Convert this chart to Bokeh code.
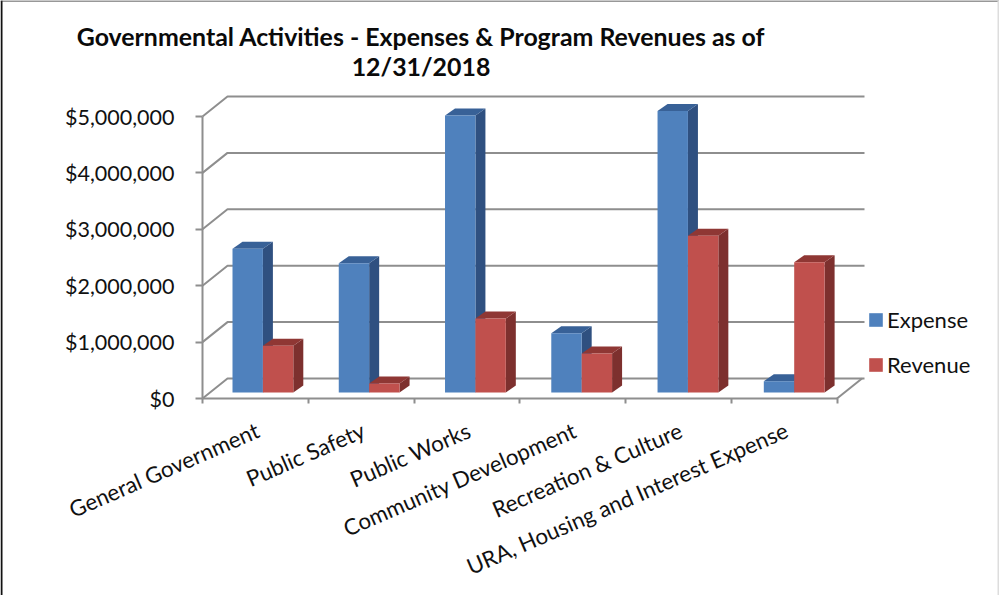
from bokeh.core.properties import value
from bokeh.embed import file_html
from bokeh.resources import INLINE
from bokeh.plotting import figure
from bokeh.models import (Range1d, LinearAxis, FixedTicker, NumeralTickFormatter, Label, LabelSet,
                          ColumnDataSource, Legend, LegendItem, BoxAnnotation)

categories = ["General Government", "Public Safety", "Public Works",
              "Community Development", "Recreation & Culture",
              "URA, Housing and Interest Expense"]
expense = [2550000, 2290000, 4910000, 1050000, 4990000, 200000]
revenue = [830000, 160000, 1310000, 690000, 2780000, 2310000]
y_ticks = [0, 1000000, 2000000, 3000000, 4000000, 5000000]
title_lines = ["Governmental Activities - Expenses & Program Revenues as of", "12/31/2018"]

FONT = "Lato"
SIZE = "21.5px"
PX_X = 1 / 105.75      # one screen pixel in category units
PX_Y = 1e6 / 56.4      # one screen pixel in dollars
W, H = 999, 595
L, R, B = 202, 864, 398

p = figure(width=W, height=H, output_backend="svg", toolbar_location=None,
           x_range=Range1d(-L * PX_X, (W - L) * PX_X), y_range=Range1d((B - H) * PX_Y, B * PX_Y),
           min_border=0, x_axis_type=None, y_axis_type=None,
           background_fill_color="white", border_fill_color="white")
p.outline_line_color = None
p.grid.visible = False

GRID = "#8E8E8E"
n = len(categories)

# back wall / floor
dx, dy = 25 * PX_X, 20 * PX_Y
x_end = (R - L) * PX_X
for v in y_ticks:
    p.line([0, dx, x_end], [v, v + dy, v + dy], line_color=GRID, line_width=2)
p.line([n, n + dx], [0, dy], line_color=GRID, line_width=2)

yax = LinearAxis(ticker=FixedTicker(ticks=y_ticks), formatter=NumeralTickFormatter(format="$0,0"),
                 bounds=(0, 5000000), fixed_location=0)
yax.axis_line_color = GRID
yax.axis_line_width = 2
yax.major_tick_line_color = GRID
yax.major_tick_line_width = 2
yax.major_tick_out = 7
yax.major_tick_in = 0
yax.minor_tick_line_color = None
yax.major_label_standoff = 21
yax.major_label_text_font = FONT
yax.major_label_text_font_size = SIZE
yax.major_label_text_color = "#111111"
p.add_layout(yax, "left")

xax = LinearAxis(ticker=FixedTicker(ticks=list(range(n + 1))), bounds=(0, n), fixed_location=0,
                 major_label_overrides={i: "" for i in range(n + 1)})
xax.axis_line_color = GRID
xax.axis_line_width = 2
xax.major_tick_line_color = GRID
xax.major_tick_line_width = 2
xax.major_tick_out = 5
xax.major_tick_in = 0
xax.minor_tick_line_color = None
p.add_layout(xax, "below")

# bars
BLUE, BLUE_TOP, BLUE_SIDE = "#4F81BD", "#386197", "#2F5080"
RED, RED_TOP, RED_SIDE = "#C0504D", "#8F3734", "#7D302E"
bw = 30.4 * PX_X
bar_dx, bar_dy = 10 * PX_X, 7 * PX_Y
base = 6 * PX_Y
start = 30 * PX_X
pitch = 106.26 * PX_X


def bars(values, shift, front, top, side):
    lefts = [start + i * pitch + shift for i in range(len(values))]
    rights = [a + bw for a in lefts]
    tops = [base + v for v in values]
    p.patches([[r, r + bar_dx, r + bar_dx, r] for r in rights],
              [[base, base + bar_dy, t + bar_dy, t] for t in tops],
              fill_color=side, line_color=None)
    p.patches([[a, a + bar_dx, r + bar_dx, r] for a, r in zip(lefts, rights)],
              [[t, t + bar_dy, t + bar_dy, t] for t in tops],
              fill_color=top, line_color=None)
    return p.quad(left=lefts, right=rights, bottom=[base] * len(values), top=tops,
                  fill_color=front, line_color=None)


r_blue = bars(expense, 0, BLUE, BLUE_TOP, BLUE_SIDE)
r_red = bars(revenue, bw, RED, RED_TOP, RED_SIDE)

legend = Legend(items=[LegendItem(label="Expense", renderers=[r_blue]),
                       LegendItem(label="Revenue", renderers=[r_red])],
                location=(867, 217), orientation="vertical",
                glyph_width=17, glyph_height=17, label_standoff=3, spacing=18,
                padding=0, margin=0, border_line_color=None, background_fill_alpha=0,
                label_text_font=FONT, label_text_font_size="22px", label_text_color="#111111")
p.add_layout(legend, "center")

src = ColumnDataSource(dict(x=[i + 0.5 for i in range(n)], y=[0] * n, text=categories))
p.add_layout(LabelSet(x="x", y="y", text="text", source=src, x_offset=-3, y_offset=-18,
                      angle=23.5, angle_units="deg", text_align="right", text_baseline="top",
                      text_font=value(FONT), text_font_size=value("22.3px"), text_color="#111111"))

for line, ty in zip(title_lines, [35, 65]):
    p.add_layout(Label(x=420.5, y=H - ty, x_units="screen", y_units="screen", text=line,
                       text_align="center", text_baseline="middle", text_font=FONT,
                       text_font_style="bold", text_font_size="24.9px", text_color="#0A0A0A"))

for kw, col in [(dict(left=0, right=2, top=H, bottom=0), "#111111"),
                (dict(left=0, right=W, top=H, bottom=H - 1), "#333333"),
                (dict(left=W - 2, right=W, top=H, bottom=0), "#DDDDDD")]:
    p.add_layout(BoxAnnotation(left_units="screen", right_units="screen", top_units="screen",
                               bottom_units="screen", fill_color=col, fill_alpha=1,
                               line_color=None, **kw))

open("out.html", "w").write(file_html(p, INLINE))
